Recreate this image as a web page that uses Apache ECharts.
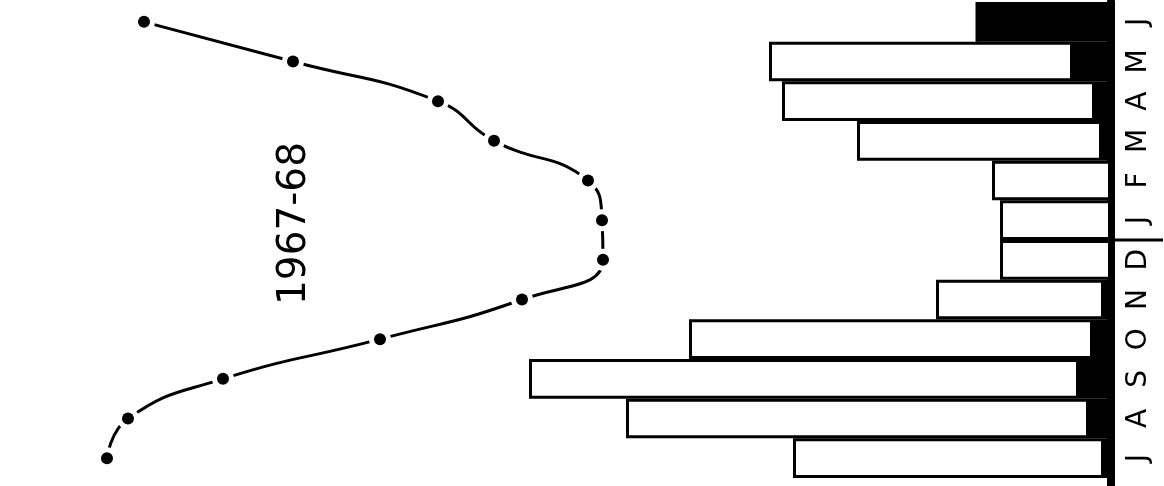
<!DOCTYPE html>
<html>
<head>
<meta charset="utf-8">
<script src="https://cdn.jsdelivr.net/npm/echarts@6/dist/echarts.min.js"></script>
<style>
  html, body { margin: 0; padding: 0; background: #fff; }
  #main { width: 1164px; height: 486px; }
</style>
</head>
<body>
<div id="main"></div>
<script>
// months, July 1967 -> June 1968 (bottom to top)
var months = ['J', 'A', 'S', 'O', 'N', 'D', 'J', 'F', 'M', 'A', 'M', 'J'];
// bar parts (black = inner part next to the axis, white = outer part)
var blackPart = [0.7, 2.2, 3.2, 1.8, 0.7, 0, 0, 0, 0.9, 1.6, 3.8, 13.4];
var whitePart = [31.1, 46.3, 55.0, 40.4, 16.8, 11.1, 11.1, 11.9, 24.5, 31.3, 30.4, 0];
// curve on the left
var curve = [9.6, 11.7, 21.2, 36.9, 51.1, 59.2, 59.1, 57.7, 48.3, 42.7, 28.2, 13.3];
var yearLabel = '1967-68';
var yearEndIndex = 5; // December, the year changes above it

var chart = echarts.init(document.getElementById('main'));

var option = {
    backgroundColor: '#fff',
    animation: false,
    grid: { left: 11, right: 53, top: 2, bottom: 8 },
    xAxis: [
        { type: 'value', inverse: true, min: 0, max: 110, show: false },
        { type: 'value', min: 0, max: 110, show: false }
    ],
    yAxis: {
        type: 'category',
        position: 'right',
        data: months,
        axisLine: { lineStyle: { color: '#000', width: 8 } },
        axisTick: { show: false },
        axisLabel: {
            rotate: 90,
            margin: 14,
            color: '#000',
            fontFamily: 'DejaVu Sans',
            fontSize: 28
        },
        splitLine: { show: false }
    },
    series: [
        {
            name: 'black',
            type: 'bar',
            stack: 'm',
            xAxisIndex: 0,
            barCategoryGap: '0%',
            data: blackPart,
            itemStyle: { color: '#000', borderColor: '#000', borderWidth: 3 }
        },
        {
            name: 'white',
            type: 'bar',
            stack: 'm',
            xAxisIndex: 0,
            barCategoryGap: '0%',
            data: whitePart,
            itemStyle: { color: '#fff', borderColor: '#000', borderWidth: 3 }
        },
        {
            // year boundary tick beside the axis, and the axis running on below July
            name: 'year',
            type: 'custom',
            xAxisIndex: 0,
            silent: true,
            data: [[0, yearEndIndex]],
            encode: { x: 0, y: 1 },
            renderItem: function (params, api) {
                var p = api.coord([api.value(0), api.value(1)]);
                var h = api.size([0, 1])[1];
                var y = p[1] - h / 2;
                var yBottom = p[1] + (api.value(1) + 0.5) * h;
                return {
                    type: 'group',
                    children: [
                        {
                            type: 'line',
                            shape: { x1: p[0] + 4, y1: y, x2: p[0] + 52, y2: y },
                            style: { stroke: '#000', lineWidth: 3 }
                        },
                        {
                            type: 'line',
                            shape: { x1: p[0], y1: yBottom - 2, x2: p[0], y2: yBottom + 10 },
                            style: { stroke: '#000', lineWidth: 8 }
                        }
                    ]
                };
            }
        },
        {
            name: 'curve',
            type: 'line',
            xAxisIndex: 1,
            smooth: 0.5,
            showSymbol: false,
            data: curve,
            z: 2,
            lineStyle: { color: '#000', width: 3 }
        },
        {
            // white rings leave the gaps round each point
            name: 'gap',
            type: 'scatter',
            xAxisIndex: 1,
            symbolSize: 22,
            data: curve,
            z: 3,
            itemStyle: { color: '#fff', opacity: 1 }
        },
        {
            name: 'points',
            type: 'scatter',
            xAxisIndex: 1,
            symbolSize: 12,
            data: curve,
            z: 4,
            itemStyle: { color: '#000', opacity: 1 }
        }
    ],
    graphic: [
        {
            type: 'text',
            left: 275,
            top: 142,
            rotation: Math.PI / 2,
            style: {
                text: yearLabel,
                fill: '#000',
                font: '39px "DejaVu Sans"'
            }
        }
    ]
};

chart.setOption(option);
window.addEventListener('resize', function () {
    chart.resize();
});
</script>
</body>
</html>
